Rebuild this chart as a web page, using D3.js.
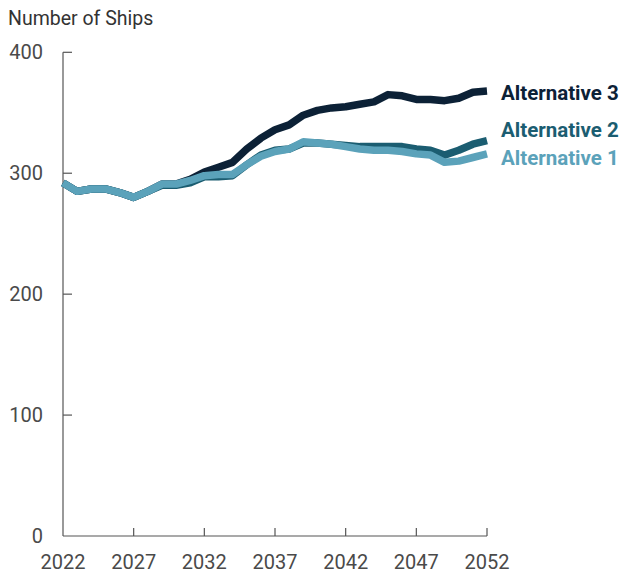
<!DOCTYPE html>
<html>
<head>
<meta charset="utf-8">
<script src="https://cdn.jsdelivr.net/npm/d3@7"></script>
<style>
    body { margin: 0; background: #fff; }
    svg { display: block; font-family: Roboto, "Noto Sans", sans-serif; }
    .tick-label { fill: #4a4a4a; font-size: 20px; }
    .legend-label { font-size: 20.5px; font-weight: bold; }
</style>
</head>
<body>
<div class="chart"></div>
<script>
const years = d3.range(2022, 2053)
const alt3 = [292, 285, 287, 287, 284, 280, 285, 291, 291, 295, 301, 305, 309, 320, 329, 336, 340, 348, 352, 354, 355, 357, 359, 365, 364, 361, 361, 360, 362, 367, 368]
const alt2 = [292, 285, 287, 287, 284, 280, 285, 290, 290, 292, 297, 297, 298, 307, 315, 319, 320, 325, 325, 324, 323, 322, 322, 322, 322, 320, 319, 315, 319, 324, 327]
const alt1 = [292, 285, 287, 287, 284, 280, 285, 291, 291, 294, 298, 299, 299, 307, 314, 318, 320, 326, 325, 324, 322, 320, 319, 319, 318, 316, 315, 309, 310, 313, 316]
const seriesNames = ["Alternative 3", "Alternative 2", "Alternative 1"]
const seriesColors = ["#0c2136", "#1b5d71", "#5ba2ba"]
const yTicks = [0, 100, 200, 300, 400]
const xTicks = [2022, 2027, 2032, 2037, 2042, 2047, 2052]

function drawChart() {
    const w = 624, h = 573;
    const padding = { left: 63, top: 52.3, right: 137, bottom: 37 };
    const chartWidth = w - padding.left - padding.right;
    const chartHeight = h - padding.top - padding.bottom;

    var svg = d3.select('.chart')
        .append("svg")
        .attr("width", w)
        .attr("height", h);

    svg.append("text")
        .attr("x", 8)
        .attr("y", 25)
        .attr("fill", "#333")
        .style("font-size", "19.5px")
        .text("Number of Ships");

    var g = svg.append("g")
        .attr("transform", "translate(" + padding.left + "," + padding.top + ")");

    var xScale = d3.scaleLinear().domain([2022, 2052]).range([0, chartWidth]);
    var yScale = d3.scaleLinear().domain([0, 400]).range([chartHeight, 0]);

    // axes with inward ticks
    g.append("line")
        .attr("x1", 0).attr("x2", 0)
        .attr("y1", yScale(400)).attr("y2", yScale(0))
        .attr("stroke", "#555").attr("stroke-width", 1.2);
    g.append("line")
        .attr("x1", 0).attr("x2", chartWidth)
        .attr("y1", yScale(0)).attr("y2", yScale(0))
        .attr("stroke", "#555").attr("stroke-width", 1.2);

    g.selectAll(".ytick")
        .data(yTicks.filter(d => d > 0))
        .enter().append("line")
        .attr("x1", 0).attr("x2", 9)
        .attr("y1", d => yScale(d)).attr("y2", d => yScale(d))
        .attr("stroke", "#555").attr("stroke-width", 1.2);

    g.selectAll(".ylabel")
        .data(yTicks)
        .enter().append("text")
        .attr("class", "tick-label")
        .attr("x", -20)
        .attr("y", d => yScale(d) + 7)
        .attr("text-anchor", "end")
        .text(d => d);

    g.selectAll(".xtick")
        .data(xTicks.filter(d => d > 2022))
        .enter().append("line")
        .attr("x1", d => xScale(d)).attr("x2", d => xScale(d))
        .attr("y1", yScale(0)).attr("y2", yScale(0) - 8)
        .attr("stroke", "#555").attr("stroke-width", 1.2);

    g.selectAll(".xlabel")
        .data(xTicks)
        .enter().append("text")
        .attr("class", "tick-label")
        .attr("x", d => xScale(d))
        .attr("y", chartHeight + 33)
        .attr("text-anchor", "middle")
        .text(d => d);

    // lines, alternative 1 drawn last (on top)
    var line = d3.line()
        .x((d, i) => xScale(years[i]))
        .y(d => yScale(d));

    [alt3, alt2, alt1].forEach((s, i) => {
        g.append("path")
            .datum(s)
            .attr("fill", "none")
            .attr("stroke", seriesColors[i])
            .attr("stroke-width", 7.5)
            .attr("stroke-linejoin", "round")
            .attr("d", line);
    });

    var legendY = [100, 137, 165];
    seriesNames.forEach((n, i) => {
        svg.append("text")
            .attr("class", "legend-label")
            .attr("x", 501)
            .attr("y", legendY[i])
            .attr("fill", seriesColors[i])
            .text(n);
    });
}

drawChart();
</script>
</body>
</html>
